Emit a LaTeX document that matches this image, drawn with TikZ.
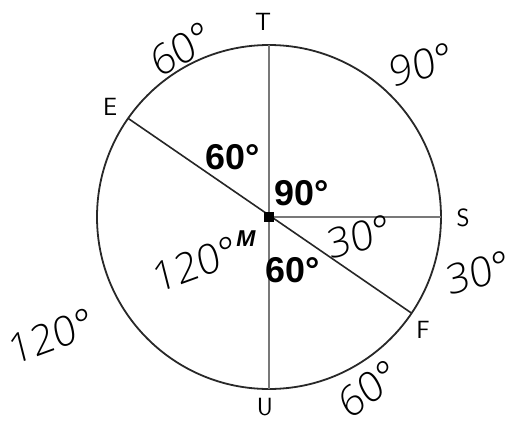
\documentclass[tikz,border=0pt]{standalone}
\usepackage{fontspec}
\setmainfont{Liberation Sans}
\newfontfamily\handfont{Open Sans Light}[FakeSlant=0.1]
\usetikzlibrary{calc}
\definecolor{rimGray}{RGB}{40,40,40}
\definecolor{rayGray}{RGB}{120,120,120}

\begin{document}
\begin{tikzpicture}[x=1bp, y=1bp,
    rim/.style={draw=rimGray, line width=1.8bp},
    ray/.style={draw=rayGray, line width=2.6bp},
    chord/.style={draw=black!85, line width=1.6bp},
    pt/.style={font=\fontsize{25}{25}\selectfont\sffamily, inner sep=0pt},
    bold/.style={font=\fontsize{36}{36}\selectfont\bfseries, inner sep=0pt},
    hand/.style={font=\fontsize{41}{41}\selectfont\handfont, inner sep=0pt}]

    \useasboundingbox (0,0) rectangle (522,428);

    % Circle and points on it
    \coordinate (M) at (269,211);
    \coordinate (T) at ($(M)+(90:172bp)$);
    \coordinate (U) at ($(M)+(270:172bp)$);
    \coordinate (S) at ($(M)+(0:172bp)$);
    \coordinate (E) at ($(M)+(145:172bp)$);
    \coordinate (F) at ($(M)+(-34:172bp)$);

    \draw[rim] (M) circle (172bp);
    \draw[ray] (T) -- (U);
    \draw[ray] (M) -- (S);
    \draw[chord] (E) -- (F);
    \fill[black] ($(M)+(-5,-5)$) rectangle ($(M)+(5,5)$);

    % Point names
    \node[pt] (tname) at (263,406) {T};
    \node[pt] (ename) at (110,321) {E};
    \node[pt] (sname) at (463,210) {S};
    \node[pt] (fname) at (423,98) {F};
    \node[pt] (uname) at (265,21) {U};
    \node[pt, font=\fontsize{23}{23}\selectfont\bfseries\itshape] (mname) at (246,189) {M};

    % Printed angles
    \node[bold] (angTE) at (233,271) {60°};
    \node[bold] (angTS) at (302,235) {90°};
    \node[bold] (angUF) at (293,158) {60°};

    % Handwritten angles
    \node[hand, rotate=15] (angSF) at (358,191) {30°};
    \node[hand, rotate=20] (angEU) at (194,163) {120°};
    \node[hand, rotate=30] (arcET) at (180,378) {60°};
    \node[hand, rotate=15] (arcTS) at (420,363) {90°};
    \node[hand, rotate=15] (arcSF) at (477,155) {30°};
    \node[hand, rotate=20] (arcUE) at (50,91) {120°};
    \node[hand, rotate=35] (arcFU) at (367,38) {60°};

\end{tikzpicture}
\end{document}
